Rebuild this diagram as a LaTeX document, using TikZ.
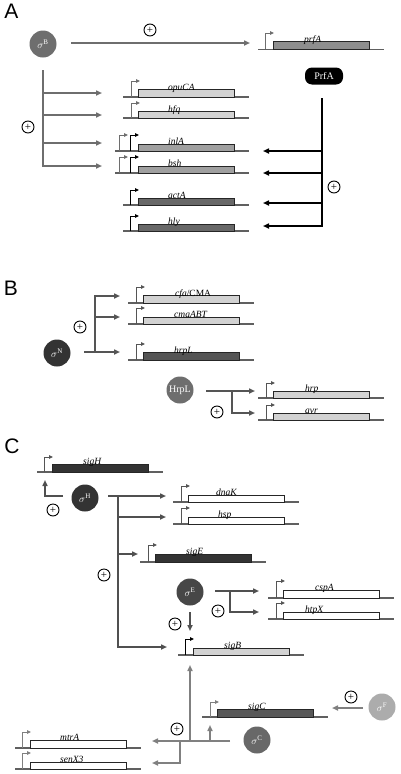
\documentclass[tikz,border=0pt]{standalone}
\usepackage{fontspec}
\setmainfont{Liberation Serif}
\newfontfamily\panelfont{Liberation Sans}
\usetikzlibrary{arrows.meta}
\definecolor{gA}{HTML}{6E6E6E}
\definecolor{gB}{HTML}{555555}
\definecolor{gC}{HTML}{505050}
\definecolor{gCC}{HTML}{808080}
\definecolor{basegray}{HTML}{606060}
\definecolor{lightg}{HTML}{D2D2D2}
\definecolor{midg}{HTML}{A0A0A0}
\definecolor{darkg}{HTML}{686868}
\definecolor{prfAfill}{HTML}{8E8E8E}
\definecolor{vdark}{HTML}{333333}
\definecolor{sigCfill}{HTML}{585858}
\tikzset{
  conn/.style={line width=1.5pt, -{Triangle[length=6pt,width=5pt]}},
  baseln/.style={draw=basegray, line width=1.1pt},
  gbox/.style={draw=black!85, line width=0.6pt},
  glab/.style={font=\fontsize{9.5}{10}\selectfont\itshape, anchor=base west, inner sep=0pt},
  sig/.style={circle, minimum size=27pt, inner sep=0pt, text=white, font=\fontsize{10}{10}\selectfont},
  plus/.style={circle, draw, line width=0.9pt, minimum size=12pt, inner sep=0pt, font=\fontsize{11}{11}\selectfont},
  plab/.style={font=\panelfont\fontsize{21}{21}\selectfont, inner sep=0pt},
}
% #1 name, #2 box left, #3 baseline y, #4 top y, #5 fill, #6 label, #7 label offset, #8 line left
\newcommand\gene[8]{%
  \draw[baseln] (#8,#3) -- (#2+111,#3);
  \draw[gbox, fill=#5] (#2,#4) rectangle (#2+96,#3);
  \node[glab] (#1) at (#2+#7,#4+0.6) {#6};
}
\newcommand\prom[4]{%
  \draw[#4, line width=1pt, -{Triangle[length=4pt,width=3.6pt]}] (#1,#2) -- (#1,#3) -- (#1+9,#3);
}
\begin{document}
\begin{tikzpicture}[x=1pt,y=-1pt]
\fill[white] (0,0) rectangle (400,774);
\useasboundingbox (0,0) rectangle (400,774);

%% ---------------- Panel A
\node[plab] (pA) at (11.5,11) {A};
\node[sig, fill=gA] (sB) at (43,44) {$\sigma^{\mathrm{B}}$};
\coordinate (sBr) at (71,43);
\coordinate (prfAin) at (250,43);
\draw[conn, gA] (sBr) -- (prfAin);
\node[plus] (pl1) at (150,30) {+};
\gene{prfA}{273}{49.3}{41.7}{prfAfill}{prfA}{31}{258}
\prom{265}{49.3}{33}{gA}

\node[fill=black, rounded corners=7pt, minimum width=38pt, minimum height=17pt, inner sep=0pt, text=white, font=\fontsize{10}{10}\selectfont] (PrfA) at (324,76) {PrfA};

\gene{opuCA}{138}{97}{89.5}{lightg}{opuCA}{30}{123}
\prom{131}{97}{81}{gA}
\gene{hfq}{138}{118}{111.5}{lightg}{hfq}{30}{123}
\prom{131}{118}{103}{gA}
\gene{inlA}{138}{151}{144}{midg}{inlA}{30}{115}
\prom{119}{151}{135}{gA}
\prom{130}{151}{135}{black}
\gene{bsh}{138}{173}{166}{midg}{bsh}{30}{115}
\prom{119}{173}{157}{gA}
\prom{130}{173}{157}{black}
\gene{actA}{138}{205}{198}{darkg}{actA}{30}{123}
\prom{130}{205}{190}{black}
\gene{hly}{138}{231}{224}{darkg}{hly}{30}{123}
\prom{130}{231}{216}{black}

% sigma B bracket
\coordinate (bAtop) at (43,70);
\coordinate (bA1) at (43,93);  \coordinate (tA1) at (102,93);
\coordinate (bA2) at (43,115); \coordinate (tA2) at (102,115);
\coordinate (bA3) at (43,143); \coordinate (tA3) at (102,143);
\coordinate (bA4) at (43,166); \coordinate (tA4) at (102,166);
\draw[conn, gA] (bAtop) -- (bA4) -- (tA4);
\draw[conn, gA] (bA1) -- (tA1);
\draw[conn, gA] (bA2) -- (tA2);
\draw[conn, gA] (bA3) -- (tA3);
\node[plus] (pl2) at (28,127) {+};

% PrfA bracket
\coordinate (rAtop) at (322,98);
\coordinate (rA1) at (322,151); \coordinate (uA1) at (263,151);
\coordinate (rA2) at (322,173); \coordinate (uA2) at (263,173);
\coordinate (rA3) at (322,203); \coordinate (uA3) at (263,203);
\coordinate (rA4) at (322,226); \coordinate (uA4) at (263,226);
\draw[conn, line width=2pt] (rAtop) -- (rA4) -- (uA4);
\draw[conn, line width=2pt] (rA1) -- (uA1);
\draw[conn, line width=2pt] (rA2) -- (uA2);
\draw[conn, line width=2pt] (rA3) -- (uA3);
\node[plus] (pl3) at (334,187) {+};

%% ---------------- Panel B
\node[plab] (pB) at (11,288) {B};
\node[sig, fill=vdark] (sN) at (57,353) {$\sigma^{\mathrm{N}}$};
\coordinate (sNr) at (84,352);
\coordinate (bB0) at (95,352); \coordinate (tB0) at (120,352);
\coordinate (bB1) at (95,296); \coordinate (tB1) at (120,296);
\coordinate (bB2) at (95,317); \coordinate (tB2) at (120,317);
\draw[conn, gB] (sNr) -- (tB0);
\draw[conn, gB] (bB0) -- (bB1) -- (tB1);
\draw[conn, gB] (bB2) -- (tB2);
\node[plus] (pl4) at (80,327) {+};

\gene{cfa}{143}{303}{295.5}{lightg}{cfa\textup{/CMA}}{32}{128}
\prom{136}{303}{287}{gB}
\gene{cmaABT}{143}{324}{317}{lightg}{cmaABT}{31}{128}
\prom{136}{324}{308}{gB}
\gene{hrpL}{143}{360}{352.5}{gB}{hrpL}{31}{128}
\prom{136}{360}{344}{gB}

\node[sig, fill=gA] (HrpL) at (180,390) {HrpL};
\coordinate (hLr) at (206,391);
\coordinate (hB0) at (232,391); \coordinate (hT0) at (255,391);
\coordinate (hB1) at (232,413); \coordinate (hT1) at (255,413);
\draw[conn, gB] (hLr) -- (hT0);
\draw[conn, gB] (hB0) -- (hB1) -- (hT1);
\node[plus] (pl5) at (217,412) {+};
\gene{hrp}{273}{398}{391}{lightg}{hrp}{32}{258}
\prom{266}{398}{383}{gB}
\gene{avr}{273}{420}{413}{lightg}{avr}{32}{258}
\prom{266}{420}{405}{gB}

%% ---------------- Panel C
\node[plab] (pC) at (12,446) {C};
\gene{sigH}{52}{472}{464}{vdark}{sigH}{31}{37}
\prom{44}{472}{457}{gB}
\node[sig, fill=vdark] (sH) at (85,498) {$\sigma^{\mathrm{H}}$};
\coordinate (sHl) at (63,496);
\coordinate (sHc) at (45,496);
\coordinate (sHup) at (45,480);
\draw[conn, gC] (sHl) -- (sHc) -- (sHup);
\node[plus] (pl6) at (53,510) {+};

\coordinate (sHr) at (108,496);
\coordinate (cH0) at (118,496); \coordinate (dH0) at (166,496);
\coordinate (cH1) at (118,517); \coordinate (dH1) at (166,517);
\coordinate (cH2) at (118,554); \coordinate (dH2) at (138,554);
\coordinate (cH3) at (118,647); \coordinate (dH3) at (167,647);
\draw[conn, gC] (sHr) -- (dH0);
\draw[conn, gC] (cH0) -- (cH3) -- (dH3);
\draw[conn, gC] (cH1) -- (dH1);
\draw[conn, gC] (cH2) -- (dH2);
\node[plus] (pl7) at (104,575) {+};

\gene{dnaK}{188}{502}{495}{white}{dnaK}{28}{173}
\prom{181}{502}{486}{gB}
\gene{hsp}{188}{524}{517}{white}{hsp}{30}{173}
\prom{181}{524}{508}{gB}
\gene{sigE}{155}{562}{554}{vdark}{sigE}{31}{140}
\prom{148}{562}{545}{gB}

\node[sig, fill=vdark!90!white] (sE) at (190,592) {$\sigma^{\mathrm{E}}$};
\coordinate (sEr) at (215,591);
\coordinate (cE0) at (230,591); \coordinate (dE0) at (259,591);
\coordinate (cE1) at (230,612); \coordinate (dE1) at (259,612);
\draw[conn, gC] (sEr) -- (dE0);
\draw[conn, gC] (cE0) -- (cE1) -- (dE1);
\node[plus] (pl8) at (218,611) {+};
\coordinate (sEd) at (190,612);
\coordinate (sEd2) at (190,631);
\draw[conn, gC] (sEd) -- (sEd2);
\node[plus] (pl9) at (175,624) {+};

\gene{cspA}{283}{598}{590}{white}{cspA}{32}{268}
\prom{276}{598}{581}{gB}
\gene{htpX}{283}{619}{612}{white}{htpX}{22}{268}
\prom{276}{619}{603}{gB}

\gene{sigB}{193}{655}{648}{lightg}{sigB}{31}{178}
\prom{185}{655}{639}{black}

\gene{sigC}{217}{717}{709}{sigCfill}{sigC}{31}{202}
\prom{210}{717}{702}{gCC}
\node[sig, fill=darkg] (sC) at (257,740) {$\sigma^{\mathrm{C}}$};
\node[sig, fill=gray!65] (sF) at (382,707) {$\sigma^{\mathrm{F}}$};
\coordinate (sFl) at (363,708);
\coordinate (sCin) at (332,708);
\draw[conn, gCC] (sFl) -- (sCin);
\node[plus] (pl10) at (351,697) {+};

\coordinate (sCl) at (230,741);
\coordinate (jC) at (190,741);
\coordinate (sBin) at (190,665);
\coordinate (cC0) at (180,741); \coordinate (dC0) at (152,741);
\coordinate (cC1) at (180,763); \coordinate (dC1) at (152,763);
\coordinate (uC0) at (210,741); \coordinate (uC1) at (210,725);
\draw[conn, gCC] (sCl) -- (dC0);
\draw[conn, gCC] (jC) -- (sBin);
\draw[conn, gCC] (cC0) -- (cC1) -- (dC1);
\draw[conn, gCC] (uC0) -- (uC1);
\node[plus] (pl11) at (177,729) {+};

\gene{mtrA}{30}{748}{740}{white}{mtrA}{30}{15}
\prom{22}{748}{732}{gCC}
\gene{senX3}{30}{769}{762}{white}{senX3}{30}{15}
\prom{22}{769}{753}{gCC}
\end{tikzpicture}
\end{document}
